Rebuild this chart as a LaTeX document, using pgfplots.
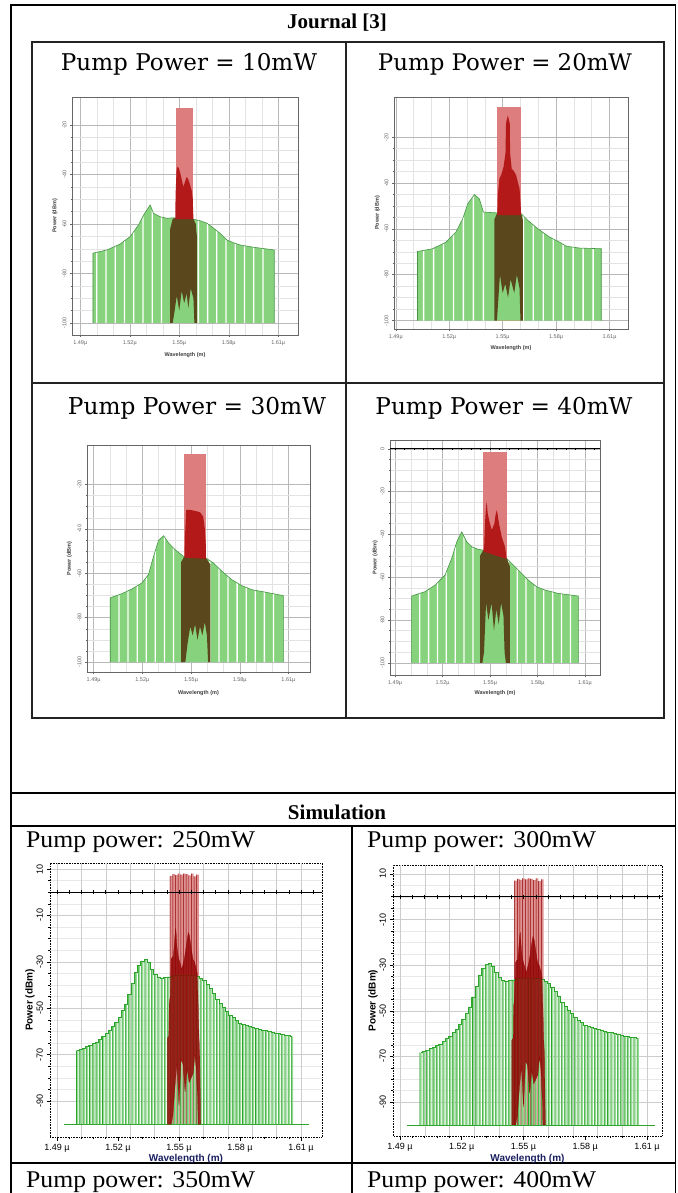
\documentclass[border=0pt]{standalone}
\usepackage{fontspec}
\setmainfont{Liberation Serif}
\newfontfamily\arial{Liberation Sans}
\newfontfamily\jfont{DejaVu Serif}
\usepackage{graphicx}
\usepackage{pgfplots}
\usepackage{pgfplotstable}
\pgfplotsset{compat=1.18}

\definecolor{sgfill}{RGB}{150,218,150}
\definecolor{sgline}{RGB}{45,165,45}
\definecolor{spink}{RGB}{222,145,145}
\definecolor{sdark}{RGB}{145,0,0}
\definecolor{xnavy}{RGB}{25,30,95}
\definecolor{jg}{RGB}{135,210,125}
\definecolor{jgl}{RGB}{70,150,70}
\definecolor{jpink}{RGB}{222,125,125}
\definecolor{jred}{RGB}{180,25,25}
\definecolor{jolive}{RGB}{90,72,28}
\definecolor{tline}{RGB}{35,35,35}

% ---------------- simulation data (dBm) ----------------
\pgfplotstableread[row sep=\\]{
w p\\
1.5000 -68.3\\ 1.5016 -67.7\\ 1.5032 -67.2\\ 1.5048 -66.6\\ 1.5064 -66.0\\
1.5080 -65.3\\ 1.5096 -64.6\\ 1.5112 -63.4\\ 1.5128 -62.2\\ 1.5144 -61.0\\
1.5160 -59.5\\ 1.5176 -58.0\\ 1.5192 -56.1\\ 1.5208 -53.8\\ 1.5224 -51.1\\
1.5240 -48.3\\ 1.5256 -43.9\\ 1.5272 -39.2\\ 1.5288 -34.6\\ 1.5304 -31.6\\
1.5320 -29.6\\ 1.5336 -29.1\\ 1.5352 -30.4\\ 1.5368 -33.2\\ 1.5384 -35.4\\
1.5400 -36.6\\ 1.5416 -36.9\\ 1.5432 -36.8\\ 1.5448 -36.5\\ 1.5464 -36.1\\
1.5480 -35.8\\ 1.5496 -35.6\\ 1.5512 -35.6\\ 1.5528 -35.6\\ 1.5544 -35.6\\
1.5560 -35.8\\ 1.5576 -35.9\\ 1.5592 -36.2\\ 1.5608 -37.1\\ 1.5624 -38.1\\
1.5640 -39.8\\ 1.5656 -41.5\\ 1.5672 -43.5\\ 1.5688 -46.1\\ 1.5704 -48.0\\
1.5720 -49.6\\ 1.5736 -51.3\\ 1.5752 -52.9\\ 1.5768 -54.1\\ 1.5784 -55.2\\
1.5800 -56.4\\ 1.5816 -56.9\\ 1.5832 -57.3\\ 1.5848 -57.8\\ 1.5864 -58.2\\
1.5880 -58.6\\ 1.5896 -59.0\\ 1.5912 -59.3\\ 1.5928 -59.6\\ 1.5944 -59.9\\
1.5960 -60.3\\ 1.5976 -60.6\\ 1.5992 -61.0\\ 1.6008 -61.3\\ 1.6024 -61.6\\
1.6040 -61.8\\ 1.6056 -62.1\\
}\simG

\pgfplotstableread[row sep=\\]{
w p\\ 1.4933 -100\\ 1.6140 -100\\
}\simFloor

\pgfplotstableread[row sep=\\]{
w p\\
1.5462 7.0\\ 1.5475 7.8\\ 1.5488 7.4\\ 1.5501 8.0\\ 1.5514 7.6\\ 1.5527 8.0\\
1.5540 7.8\\ 1.5553 7.3\\ 1.5566 8.0\\ 1.5579 6.8\\ 1.5592 7.6\\
}\simP

\pgfplotstableread[row sep=\\]{
w p\\
1.5443 -100\\ 1.5443 -63\\ 1.5450 -62\\ 1.5452 -48\\ 1.5457 -45\\ 1.5460 -35\\
1.5461 -29\\ 1.5467 -28\\ 1.5472 -27.7\\ 1.5476 -24\\ 1.5480 -19\\ 1.5484 -15.5\\
1.5487 -19\\ 1.5490 -23.5\\ 1.5495 -27\\ 1.5500 -29\\ 1.5507 -31\\ 1.5513 -33.4\\
1.5520 -31\\ 1.5526 -29\\ 1.5533 -25\\ 1.5540 -20.5\\ 1.5546 -17.4\\ 1.5552 -19\\
1.5559 -23.4\\ 1.5565 -27\\ 1.5569 -29\\ 1.5576 -30\\ 1.5582 -32\\ 1.5590 -35\\
1.5594 -48\\ 1.5598 -62\\ 1.5602 -70\\ 1.5606 -100\\
1.5594 -100\\ 1.5592 -90\\ 1.5585 -76\\ 1.5578 -70\\ 1.5570 -78\\ 1.5560 -80\\
1.5550 -82\\ 1.5540 -76\\ 1.5530 -86\\ 1.5520 -74\\ 1.5510 -72\\ 1.5500 -92\\
1.5490 -74\\ 1.5480 -84\\ 1.5470 -96\\ 1.5462 -100\\
}\simD

\pgfplotstableread[row sep=\\]{
w p\\ 1.47 0\\ 1.64 0\\
}\zeroLine

\pgfplotstableread[row sep=\\]{
w p\\
1.490 0\\ 1.496 0\\ 1.502 0\\ 1.508 0\\ 1.514 0\\ 1.520 0\\ 1.526 0\\ 1.532 0\\
1.538 0\\ 1.544 0\\ 1.550 0\\ 1.556 0\\ 1.562 0\\ 1.568 0\\ 1.574 0\\ 1.580 0\\
1.586 0\\ 1.592 0\\ 1.598 0\\ 1.604 0\\ 1.610 0\\ 1.616 0\\
}\zeroTicks

% ---------------- journal data (dBm) ----------------
% panel 10 mW
\pgfplotstableread[row sep=\\]{
w p\\
1.4977 -100\\ 1.4977 -71.8\\ 1.5062 -70.5\\ 1.5142 -68.1\\ 1.5203 -65.1\\ 1.5253 -60.4\\
1.5284 -56.4\\ 1.5324 -52.3\\ 1.5344 -55.7\\ 1.5385 -57.1\\ 1.5425 -57.7\\ 1.5465 -57.5\\
1.5587 -58.1\\ 1.5627 -58.7\\ 1.5668 -59.7\\ 1.5708 -61.7\\ 1.5748 -63.8\\ 1.5789 -66.5\\
1.5829 -67.6\\ 1.5870 -68.5\\ 1.5950 -69.4\\ 1.6076 -70.5\\ 1.6076 -100\\
}\jEa
\pgfplotstableread[row sep=\\]{
w p\\
1.5000 -71.5\\ 1.5056 -70.6\\ 1.5112 -69.0\\ 1.5168 -66.8\\ 1.5224 -63.1\\ 1.5280 -57\\
1.5336 -54.5\\ 1.5392 -57.2\\ 1.5616 -58.6\\ 1.5672 -59.9\\ 1.5728 -62.8\\ 1.5784 -66.2\\
1.5840 -67.8\\ 1.5896 -68.8\\ 1.5952 -69.4\\ 1.6008 -69.9\\
}\jWa
\pgfplotstableread[row sep=\\]{
w p\\ 1.5482 -100\\ 1.5482 -13.1\\ 1.5585 -13.1\\ 1.5585 -100\\
}\jPa
\pgfplotstableread[row sep=\\]{
w p\\
1.5445 -100\\ 1.5445 -62\\ 1.5460 -58\\ 1.5476 -57.5\\ 1.5586 -58\\ 1.5600 -60\\
1.5607 -65\\ 1.5607 -100\\ 1.5592 -100\\ 1.5586 -90\\ 1.5570 -86\\ 1.5555 -94\\
1.5545 -88\\ 1.5530 -92\\ 1.5515 -87\\ 1.5500 -95\\ 1.5485 -89\\ 1.5470 -96\\ 1.5460 -100\\
}\jOa
\pgfplotstableread[row sep=\\]{
w p\\
1.5476 -58\\ 1.5478 -48\\ 1.5484 -38\\ 1.5490 -36.8\\ 1.5498 -37.5\\ 1.5506 -39.4\\
1.5515 -42\\ 1.5525 -45\\ 1.5535 -43\\ 1.5545 -41\\ 1.5555 -42\\ 1.5565 -44\\
1.5575 -46.3\\ 1.5582 -50\\ 1.5586 -58\\
}\jRa

% panel 20 mW
\pgfplotstableread[row sep=\\]{
w p\\
1.5022 -100\\ 1.5022 -69.9\\ 1.5107 -68.7\\ 1.5182 -65.8\\ 1.5238 -61.4\\ 1.5276 -55.6\\
1.5304 -49.1\\ 1.5341 -45.1\\ 1.5369 -46.9\\ 1.5392 -52.7\\ 1.5453 -53\\ 1.5604 -53.4\\
1.5641 -56.3\\ 1.5698 -60\\ 1.5763 -63.6\\ 1.5819 -65.8\\ 1.5857 -67.6\\ 1.5932 -68.4\\
1.6054 -68.7\\ 1.6054 -100\\
}\jEb
\pgfplotstableread[row sep=\\]{
w p\\
1.5056 -69.4\\ 1.5112 -68.6\\ 1.5168 -66.4\\ 1.5224 -62.5\\ 1.5280 -54.8\\ 1.5336 -45.8\\
1.5392 -52.7\\ 1.5616 -54.3\\ 1.5672 -58.3\\ 1.5728 -62\\ 1.5784 -64.4\\ 1.5840 -66.8\\
1.5896 -68\\ 1.5952 -68.5\\ 1.6008 -68.6\\
}\jWb
\pgfplotstableread[row sep=\\]{
w p\\ 1.5467 -100\\ 1.5467 -6.8\\ 1.5604 -6.8\\ 1.5604 -100\\
}\jPb
\pgfplotstableread[row sep=\\]{
w p\\
1.5453 -100\\ 1.5453 -56\\ 1.5470 -53\\ 1.5604 -53.4\\ 1.5613 -56\\ 1.5613 -100\\
1.5600 -100\\ 1.5595 -86\\ 1.5580 -80\\ 1.5565 -88\\ 1.5545 -82\\ 1.5530 -90\\
1.5515 -84\\ 1.5500 -88\\ 1.5485 -80\\ 1.5468 -100\\
}\jOb
\pgfplotstableread[row sep=\\]{
w p\\
1.5470 -54\\ 1.5473 -45.4\\ 1.5482 -38\\ 1.5491 -36.7\\ 1.5505 -33\\ 1.5516 -27\\
1.5519 -14\\ 1.5529 -10.5\\ 1.5540 -14\\ 1.5542 -27\\ 1.5551 -33.8\\ 1.5565 -35\\
1.5576 -36.7\\ 1.5595 -42.5\\ 1.5600 -48\\ 1.5604 -54\\
}\jRb

% panel 30 mW
\pgfplotstableread[row sep=\\]{
w p\\
1.5002 -100\\ 1.5002 -71.1\\ 1.5074 -69.2\\ 1.5136 -67.1\\ 1.5197 -64.4\\ 1.5238 -60.6\\
1.5269 -52.4\\ 1.5300 -45.2\\ 1.5331 -43.1\\ 1.5362 -46.4\\ 1.5402 -49.4\\ 1.5433 -51.2\\
1.5454 -52.4\\ 1.5591 -53.1\\ 1.5638 -55.4\\ 1.5690 -59.1\\ 1.5751 -62.9\\ 1.5813 -65.6\\
1.5874 -67.4\\ 1.5956 -68.5\\ 1.6069 -70.1\\ 1.6069 -100\\
}\jEc
\pgfplotstableread[row sep=\\]{
w p\\
1.5056 -69.7\\ 1.5112 -67.9\\ 1.5168 -65.6\\ 1.5224 -61.9\\ 1.5280 -49.9\\ 1.5336 -43.6\\
1.5392 -48.7\\ 1.5616 -54.3\\ 1.5672 -57.8\\ 1.5728 -61.5\\ 1.5784 -64.4\\ 1.5840 -66.4\\
1.5896 -67.7\\ 1.5952 -68.4\\ 1.6008 -69.3\\
}\jWc
\pgfplotstableread[row sep=\\]{
w p\\ 1.5458 -100\\ 1.5458 -6.4\\ 1.5591 -6.4\\ 1.5591 -100\\
}\jPc
\pgfplotstableread[row sep=\\]{
w p\\
1.5439 -100\\ 1.5439 -55\\ 1.5458 -52.4\\ 1.5591 -53.1\\ 1.5619 -56\\ 1.5619 -100\\
1.5605 -100\\ 1.5598 -88\\ 1.5585 -82\\ 1.5570 -88\\ 1.5555 -84\\ 1.5540 -90\\
1.5525 -83\\ 1.5510 -88\\ 1.5495 -84\\ 1.5478 -92\\ 1.5465 -100\\
}\jOc
\pgfplotstableread[row sep=\\]{
w p\\
1.5460 -53\\ 1.5462 -45\\ 1.5470 -31.4\\ 1.5500 -31.5\\ 1.5530 -32\\ 1.5555 -32.5\\
1.5575 -34.4\\ 1.5585 -40\\ 1.5591 -47\\ 1.5591 -53.5\\
}\jRc

% panel 40 mW
\pgfplotstableread[row sep=\\]{
w p\\
1.5005 -100\\ 1.5005 -68.8\\ 1.5089 -66.8\\ 1.5153 -63.7\\ 1.5216 -59\\ 1.5258 -51.2\\
1.5290 -43.5\\ 1.5321 -38.8\\ 1.5353 -43.5\\ 1.5385 -45.8\\ 1.5426 -47\\ 1.5451 -47.3\\
1.5605 -51.2\\ 1.5637 -53.6\\ 1.5690 -57.5\\ 1.5742 -61.4\\ 1.5795 -64.5\\ 1.5847 -66\\
1.5931 -67.6\\ 1.6058 -68.8\\ 1.6058 -100\\
}\jEd
\pgfplotstableread[row sep=\\]{
w p\\
1.5056 -67.6\\ 1.5112 -66\\ 1.5168 -62.6\\ 1.5224 -57.5\\ 1.5280 -46\\ 1.5336 -41\\
1.5392 -46\\ 1.5616 -52\\ 1.5672 -56.2\\ 1.5728 -60.5\\ 1.5784 -63.9\\ 1.5840 -65.8\\
1.5896 -67\\ 1.5952 -67.8\\ 1.6008 -68.3\\
}\jWd
\pgfplotstableread[row sep=\\]{
w p\\ 1.5458 -100\\ 1.5458 -1.4\\ 1.5605 -1.4\\ 1.5605 -100\\
}\jPd
\pgfplotstableread[row sep=\\]{
w p\\
1.5437 -100\\ 1.5437 -50\\ 1.5458 -47.3\\ 1.5605 -51\\ 1.5626 -55\\ 1.5626 -100\\
1.5600 -100\\ 1.5592 -95\\ 1.5585 -78\\ 1.5570 -72\\ 1.5555 -82\\ 1.5540 -75\\
1.5525 -85\\ 1.5510 -72\\ 1.5490 -80\\ 1.5475 -72\\ 1.5462 -95\\ 1.5452 -100\\
}\jOd
\pgfplotstableread[row sep=\\]{
w p\\
1.5458 -48\\ 1.5463 -45.8\\ 1.5468 -35\\ 1.5474 -28\\ 1.5479 -24.8\\ 1.5485 -30\\
1.5494 -33.3\\ 1.5511 -38\\ 1.5527 -35\\ 1.5535 -31\\ 1.5542 -28.6\\ 1.5549 -31\\
1.5557 -35\\ 1.5574 -41.1\\ 1.5595 -45.8\\ 1.5605 -51.5\\
}\jRd

\pgfplotsset{
  simax/.style={
    scale only axis, anchor=south west,
    xtick={1.49,1.52,1.55,1.58,1.61},
    xticklabels={1.49 µ,1.52 µ,1.55 µ,1.58 µ,1.61 µ},
    minor x tick num=4,
    extra x ticks={1.49,1.502,1.514,1.526,1.538,1.55,1.562,1.574,1.586,1.598,1.61},
    extra x tick labels={},
    extra x tick style={grid=major, major tick length=0pt},
    ytick={10,30,50,70,90,110},
    yticklabels={-90,-70,-50,-30,-10,10},
    minor y tick num=3,
    ymajorgrids, yminorgrids,
    major grid style={black!20, line width=0.4pt},
    minor grid style={black!9, line width=0.4pt},
    axis line style={black, densely dotted, line width=0.6pt},
    tick style={black, solid, line width=0.5pt},
    tick align=outside,
    major tick length=3.5pt, minor tick length=2pt,
    xtick pos=left, ytick pos=left,
    tick label style={font=\arial\fontsize{9}{10}\selectfont},
    yticklabel style={rotate=90, anchor=south},
    xlabel={Wavelength (m)}, ylabel={Power (dBm)},
    xlabel style={font=\arial\bfseries\fontsize{10}{11}\selectfont, text=xnavy, anchor=center},
    ylabel style={font=\arial\bfseries\fontsize{10}{11}\selectfont, anchor=center},
  },
  jax/.style={
    scale only axis, anchor=south west,
    xtick={1.49,1.52,1.55,1.58,1.61},
    xticklabels={1.49µ,1.52µ,1.55µ,1.58µ,1.61µ},
    minor x tick num=2,
    minor y tick num=3,
    grid=both,
    major grid style={black!28, line width=0.4pt},
    minor grid style={black!11, line width=0.4pt},
    axis line style={black!60, line width=0.5pt},
    tick style={black!60, line width=0.4pt},
    tick align=outside, major tick length=2pt, minor tick length=1.2pt,
    xtick pos=left, ytick pos=left,
    tick label style={font=\arial\fontsize{5.5}{6}\selectfont, text=black!60},
    yticklabel style={rotate=90, anchor=south},
    xlabel={Wavelength (m)}, ylabel={Power (dBm)},
    label style={font=\arial\bfseries\fontsize{5.5}{6}\selectfont, text=black!75, anchor=center},
  },
}

\newcommand{\simplots}{%
  \addplot[ybar, bar shift=0pt, bar width=0.00125, fill=spink, draw=none]
    table[x=w, y expr=\thisrow{p}+100] {\simP};
  \addplot[ybar, bar shift=-0.0005, bar width=0.00024, fill=sdark, draw=none]
    table[x=w, y expr=\thisrow{p}+100] {\simP};
  \addplot[sgline, line width=0.6pt] table[x=w, y expr=\thisrow{p}+100] {\simFloor};
  \addplot[ybar, bar shift=0pt, bar width=0.0010, fill=sgfill, draw=none]
    table[x=w, y expr=\thisrow{p}+100] {\simG};
  \addplot[ybar, bar shift=-0.00038, bar width=0.00028, fill=sgline, draw=none]
    table[x=w, y expr=\thisrow{p}+100] {\simG};
  \addplot[const plot mark mid, sgline, line width=0.6pt] table[x=w, y expr=\thisrow{p}+100] {\simG};
  \addplot[fill=sdark, fill opacity=0.82, draw=sdark, line width=0.25pt]
    table[x=w, y expr=\thisrow{p}+100] {\simD} -- cycle;
  \addplot[black, line width=0.6pt] table[x=w, y expr=\thisrow{p}+100] {\zeroLine};
  \addplot[only marks, mark=|, mark size=1.8pt, mark options={black, line width=0.5pt}]
    table[x=w, y expr=\thisrow{p}+100] {\zeroTicks};
}

% #1 env, #2 white gaps, #3 pink, #4 olive, #5 red
\newcommand{\jplots}[5]{%
  \addplot[fill=jpink, draw=none] table[x=w, y expr=\thisrow{p}+100] {#3} -- cycle;
  \addplot[fill=jg, draw=none] table[x=w, y expr=\thisrow{p}+100] {#1} -- cycle;
  \addplot[ybar, bar shift=0pt, bar width=0.0008, fill=white, draw=none]
    table[x=w, y expr=\thisrow{p}+100] {#2};
  \addplot[jgl, line width=0.6pt] table[x=w, y expr=\thisrow{p}+100] {#1};
  \addplot[fill=jolive, draw=none] table[x=w, y expr=\thisrow{p}+100] {#4} -- cycle;
  \addplot[fill=jred, draw=none] table[x=w, y expr=\thisrow{p}+100] {#5} -- cycle;
}

\begin{document}
\begin{tikzpicture}[x=1pt,y=1pt]
\useasboundingbox (0pt,0pt) rectangle (677pt,1193pt);
\fill[white] (0pt,0pt) rectangle (677pt,1193pt);

% ---- table lines ----
\draw[line width=1.6pt] (11,1188) -- (676,1188);
\draw[line width=1.6pt] (11,1189) -- (11,0);
\draw[line width=1.2pt] (675.5,1189) -- (675.5,0);
\draw[line width=1.6pt] (11,400) -- (676,400);
\draw[line width=1.6pt] (11,367) -- (676,367);
\draw[line width=1.6pt] (11,30) -- (676,30);
\draw[line width=1.6pt] (352,367) -- (352,0);
% journal picture frame
\draw[tline, line width=1.8pt] (32,475) rectangle (664,1151);
\draw[tline, line width=1.6pt] (346,475) -- (346,1151);
\draw[tline, line width=1.6pt] (32,810) -- (664,810);

% ---- texts ----
\node[anchor=base, inner sep=0] at (337,1164) {\fontsize{21}{24}\selectfont\bfseries Journal [3]};
\node[anchor=base, inner sep=0] at (337,373) {\fontsize{21}{24}\selectfont\bfseries Simulation};
\node[anchor=base west, inner sep=0] at (26,345) {\scalebox{1.07}[1]{\fontsize{24}{28}\selectfont Pump power: 250mW}};
\node[anchor=base west, inner sep=0] at (367,345) {\scalebox{1.07}[1]{\fontsize{24}{28}\selectfont Pump power: 300mW}};
\node[anchor=base west, inner sep=0] at (26,5.5) {\scalebox{1.07}[1]{\fontsize{24}{28}\selectfont Pump power: 350mW}};
\node[anchor=base west, inner sep=0] at (367,5.5) {\scalebox{1.07}[1]{\fontsize{24}{28}\selectfont Pump power: 400mW}};
\node[anchor=base, inner sep=0] at (189,1122.7) {\resizebox{256pt}{!}{\jfont Pump Power = 10mW}};
\node[anchor=base, inner sep=0] at (505,1122.7) {\resizebox{254pt}{!}{\jfont Pump Power = 20mW}};
\node[anchor=base, inner sep=0] at (197,778.3) {\resizebox{258pt}{!}{\jfont Pump Power = 30mW}};
\node[anchor=base, inner sep=0] at (504,778) {\resizebox{257pt}{!}{\jfont Pump Power = 40mW}};

% ---- journal panels ----
\begin{axis}[jax, at={(72pt,858pt)}, width=226pt, height=238pt,
  xmin=1.485, xmax=1.622, ymin=-4.85, ymax=91.3,
  ytick={0,20,40,60,80}, yticklabels={-100,-80,-60,-40,-20},
  x label style={at={(axis description cs:0.5,-0.084)}},
  y label style={at={(axis description cs:-0.075,0.5)}}]
  \jplots{\jEa}{\jWa}{\jPa}{\jOa}{\jRa}
\end{axis}

\begin{axis}[jax, at={(394pt,864pt)}, width=234pt, height=232pt,
  xmin=1.489, xmax=1.6204, ymin=-3.7, ymax=97.5,
  ytick={0,20,40,60,80}, yticklabels={-100,-80,-60,-40,-20},
  x label style={at={(axis description cs:0.5,-0.082)}},
  y label style={at={(axis description cs:-0.071,0.5)}}]
  \jplots{\jEb}{\jWb}{\jPb}{\jOb}{\jRb}
\end{axis}

\begin{axis}[jax, at={(87pt,521pt)}, width=223pt, height=227pt,
  xmin=1.4859, xmax=1.6233, ymin=-4.5, ymax=97.8,
  ytick={0,20,40,60,80}, yticklabels={-100,-80,-60,-40,-20},
  x label style={at={(axis description cs:0.5,-0.092)}},
  y label style={at={(axis description cs:-0.079,0.5)}}]
  \jplots{\jEc}{\jWc}{\jPc}{\jOc}{\jRc}
\end{axis}

\begin{axis}[jax, at={(390pt,518pt)}, width=210pt, height=235pt,
  xmin=1.4868, xmax=1.6195, ymin=-5.7, ymax=104.1,
  ytick={0,20,40,60,80,100}, yticklabels={-100,-80,-60,-40,-20,0},
  x label style={at={(axis description cs:0.5,-0.077)}},
  y label style={at={(axis description cs:-0.071,0.5)}}]
  \jplots{\jEd}{\jWd}{\jPd}{\jOd}{\jRd}
  \addplot[black, line width=0.6pt] table[x=w, y expr=\thisrow{p}+100] {\zeroLine};
  \addplot[only marks, mark=|, mark size=1.2pt, mark options={black, line width=0.4pt}]
    table[x=w, y expr=\thisrow{p}+100] {\zeroTicks};
\end{axis}

% ---- simulation panels ----
\begin{axis}[simax, at={(50pt,56pt)}, width=272pt, height=274pt,
  xmin=1.4866, xmax=1.6203, ymin=-5.5, ymax=112.6,
  x label style={at={(axis description cs:0.5,-0.080)}},
  y label style={at={(axis description cs:-0.0735,0.5)}}]
  \simplots
\end{axis}

\begin{axis}[simax, at={(393pt,57pt)}, width=269pt, height=271pt,
  xmin=1.4866, xmax=1.6173, ymin=-4.9, ymax=113.9,
  x label style={at={(axis description cs:0.5,-0.085)}},
  y label style={at={(axis description cs:-0.074,0.5)}}]
  \simplots
\end{axis}
\end{tikzpicture}
\end{document}
